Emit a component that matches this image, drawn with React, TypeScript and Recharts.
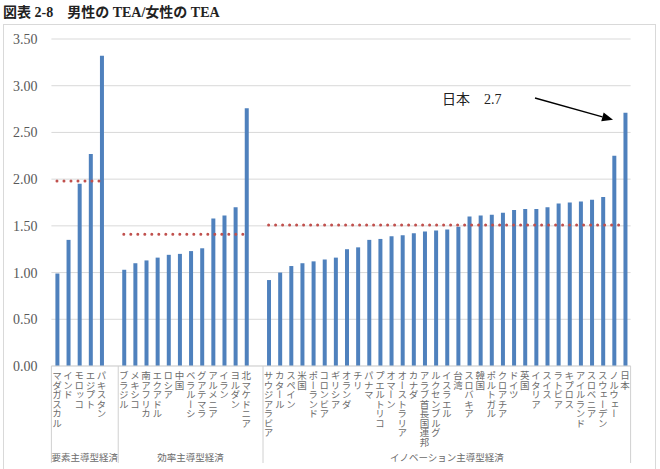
import { Bar, CartesianGrid, ComposedChart, Line, XAxis, YAxis } from "recharts"

// 要素主導型経済
const factorCountries = ["マダガスカル", "インド", "モロッコ", "エジプト", "パキスタン"]
const factorValues = [0.99, 1.35, 1.95, 2.27, 3.32]
const factorAverage = 1.98

// 効率主導型経済
const efficiencyCountries = [
  "ブラジル", "メキシコ", "南アフリカ", "エクアドル", "ロシア", "中国",
  "ベラルーシ", "グアテマラ", "アルメニア", "イラン", "ヨルダン", "北マケドニア",
]
const efficiencyValues = [1.03, 1.1, 1.13, 1.16, 1.19, 1.2, 1.23, 1.26, 1.58, 1.61, 1.7, 2.76]
const efficiencyAverage = 1.41

// イノベーション主導型経済
const innovationCountries = [
  "サウジアラビア", "カタール", "スペイン", "米国", "ポーランド", "コロンビア",
  "ギリシア", "オランダ", "チリ", "パナマ", "プエルトリコ", "オマーン",
  "オーストラリア", "カナダ", "アラブ首長国連邦", "ルクセンブルグ", "イスラエル", "台湾",
  "スロバキア", "韓国", "ポルトガル", "クロアチア", "ドイツ", "英国",
  "イタリア", "スイス", "ラトビア", "キプロス", "アイルランド", "スロベニア",
  "スウェーデン", "ノルウェー", "日本",
]
const innovationValues = [
  0.92, 1.0, 1.07, 1.1, 1.12, 1.14, 1.16, 1.25, 1.27, 1.35, 1.36, 1.39,
  1.4, 1.42, 1.44, 1.45, 1.46, 1.49, 1.6, 1.61, 1.62, 1.64, 1.67, 1.68,
  1.68, 1.7, 1.74, 1.75, 1.76, 1.78, 1.81, 2.25, 2.71,
]
const innovationAverage = 1.51

const groupNames = ["要素主導型経済", "効率主導型経済", "イノベーション主導型経済"]
const yTicks = [0, 0.5, 1, 1.5, 2, 2.5, 3, 3.5]
const calloutText = "日本　2.7"

const W = 660
const H = 469
const PLOT_LEFT = 51.4
const PLOT_RIGHT = 630.6
const PLOT_TOP = 39
const PLOT_BOTTOM = 366
const Y_MAX = 3.5

const SERIF = "'Liberation Serif', 'DejaVu Serif', 'Noto Sans CJK JP', serif"
const JP = "'Noto Sans CJK JP', sans-serif"

interface Row {
  name: string
  value: number | null
  avg: number | null
  group: number
  first: boolean
  size: number
}

const groups = [
  { countries: factorCountries, values: factorValues, avg: factorAverage, gap: true },
  { countries: efficiencyCountries, values: efficiencyValues, avg: efficiencyAverage, gap: true },
  { countries: innovationCountries, values: innovationValues, avg: innovationAverage, gap: false },
]

const data: Row[] = []
groups.forEach((g, gi) => {
  const size = g.countries.length + (g.gap ? 1 : 0)
  g.countries.forEach((c, i) =>
    data.push({ name: c, value: g.values[i], avg: g.avg, group: gi, first: i === 0, size }),
  )
  if (g.gap) data.push({ name: `gap${gi}`, value: null, avg: null, group: gi, first: false, size })
})

const band = (PLOT_RIGHT - PLOT_LEFT) / data.length
const rowByName = new Map(data.map((r) => [r.name, r]))

function CategoryTick(props: any) {
  const { x, payload } = props
  const row = rowByName.get(payload.value)
  if (!row) return null
  const isLast = row.name === data[data.length - 1].name
  const left = x - band / 2
  return (
    <g>
      {!row.name.startsWith("gap") && (
        <text
          x={x}
          y={PLOT_BOTTOM + 5}
          fontSize={9.5}
          fontFamily={JP}
          fill="#6b6b6b"
          style={{ writingMode: "vertical-rl" } as any}
        >
          {row.name}
        </text>
      )}
      {row.first && (
        <>
          <line x1={left} x2={left} y1={PLOT_BOTTOM} y2={463} stroke="#d0d0d0" />
          <text
            x={left + (row.size * band) / 2}
            y={461}
            textAnchor="middle"
            fontSize={9.5}
            fontFamily={JP}
            fill="#6b6b6b"
          >
            {groupNames[row.group]}
          </text>
        </>
      )}
      {isLast && <line x1={x + band / 2} x2={x + band / 2} y1={PLOT_BOTTOM} y2={463} stroke="#d0d0d0" />}
    </g>
  )
}

export default function App() {
  const jIdx = data.findIndex((r) => r.name === "日本")
  const jx = PLOT_LEFT + band * (jIdx + 0.5)
  const jy = PLOT_TOP + ((Y_MAX - (data[jIdx].value as number)) / Y_MAX) * (PLOT_BOTTOM - PLOT_TOP)
  const ax1 = 535
  const ay1 = 98
  const ax2 = jx - 12
  const ay2 = jy + 7
  const ang = Math.atan2(ay2 - ay1, ax2 - ax1)
  const hl = 11
  const hw = 4.5
  const bx = ax2 - hl * Math.cos(ang)
  const by = ay2 - hl * Math.sin(ang)
  const head = [
    [ax2, ay2],
    [bx + hw * Math.sin(ang), by - hw * Math.cos(ang)],
    [bx - hw * Math.sin(ang), by + hw * Math.cos(ang)],
  ]
    .map((p) => p.join(","))
    .join(" ")

  return (
    <div style={{ position: "absolute", left: 0, top: 0, width: W, height: H, background: "#fff", overflow: "hidden" }}>
      <div
        style={{
          position: "absolute",
          left: 3,
          top: 1,
          fontFamily: SERIF,
          fontWeight: "bold",
          fontSize: 14,
          color: "#222",
          whiteSpace: "pre",
        }}
      >
        図表 2-8　男性の TEA/女性の TEA
      </div>
      <div
        style={{
          position: "absolute",
          left: 3,
          top: 24,
          width: 653,
          height: 470,
          border: "1px solid #d9d9d9",
          boxSizing: "border-box",
        }}
      />
      <div style={{ position: "absolute", left: 0, top: 0 }}>
        <ComposedChart
          width={W}
          height={H}
          data={data}
          margin={{ top: PLOT_TOP, right: W - PLOT_RIGHT, bottom: H - PLOT_BOTTOM - 100, left: 0 }}
          barCategoryGap={0}
        >
          <CartesianGrid vertical={false} stroke="#d9d9d9" />
          <XAxis
            dataKey="name"
            interval={0}
            height={100}
            tickLine={false}
            axisLine={{ stroke: "#d9d9d9" }}
            tick={<CategoryTick />}
          />
          <YAxis
            width={PLOT_LEFT}
            domain={[0, Y_MAX]}
            ticks={yTicks}
            tickFormatter={(v: number) => v.toFixed(2)}
            axisLine={false}
            tickLine={false}
            tickMargin={8}
            tick={{ fontSize: 14, fontFamily: SERIF, fill: "#595959" }}
          />
          <Bar dataKey="value" fill="#4f81bd" barSize={4} isAnimationActive={false} />
          <Line
            dataKey="avg"
            type="linear"
            stroke="#c0504d"
            strokeWidth={3}
            strokeDasharray="0 7"
            strokeLinecap="round"
            dot={false}
            activeDot={false}
            connectNulls={false}
            isAnimationActive={false}
          />
        </ComposedChart>
      </div>
      <svg width={W} height={H} style={{ position: "absolute", left: 0, top: 0, pointerEvents: "none" }}>
        <text x={442} y={104} fontSize={14} fontFamily={SERIF} fill="#222" style={{ whiteSpace: "pre" }}>
          {calloutText}
        </text>
        <line x1={ax1} y1={ay1} x2={bx} y2={by} stroke="#000" strokeWidth={1.3} />
        <polygon points={head} fill="#000" />
      </svg>
    </div>
  )
}
